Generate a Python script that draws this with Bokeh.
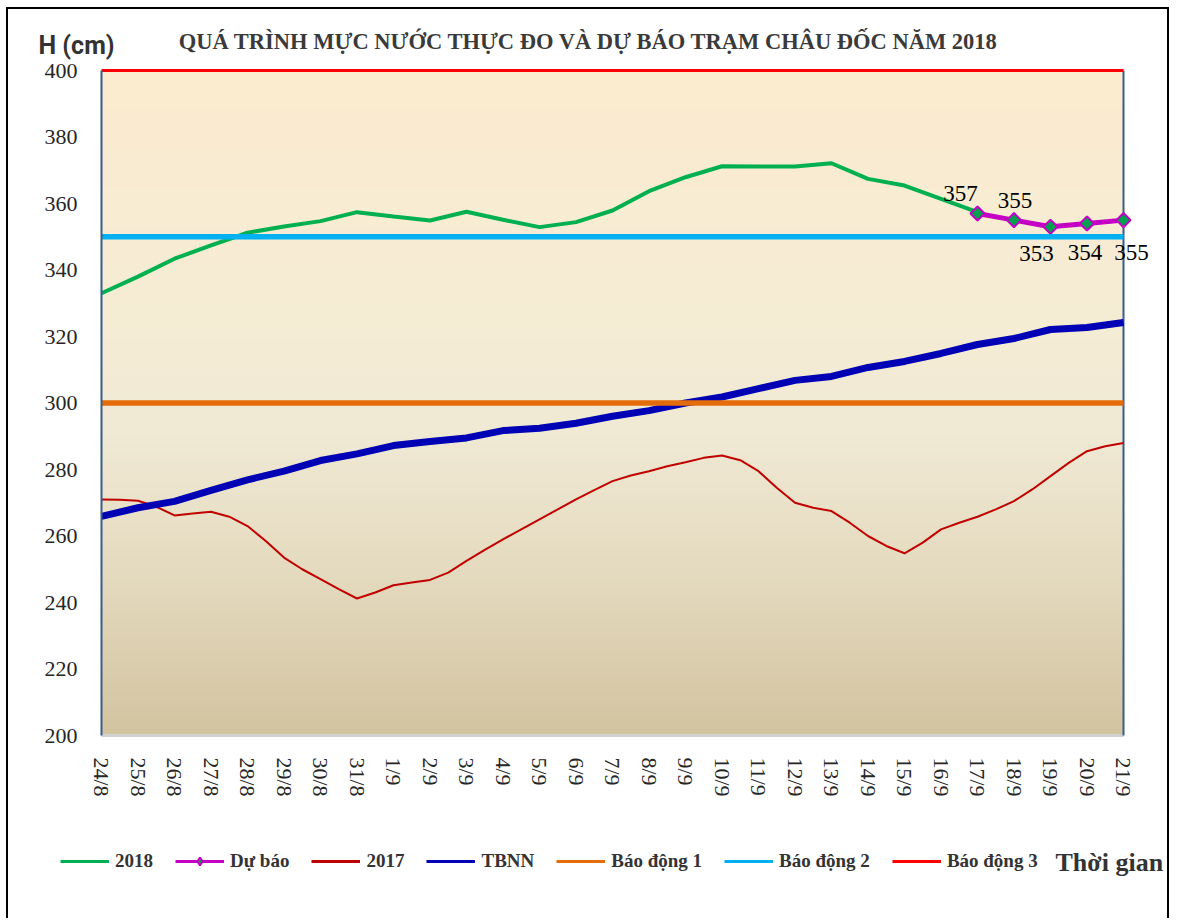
import numpy as np
from bokeh.plotting import figure
from bokeh.models import (FixedTicker, Label, LabelSet, Legend, LegendItem,
                          ColumnDataSource, Range1d, LinearAxis)
from bokeh.embed import file_html
from bokeh.resources import INLINE

# ---------------- data ----------------
dates = ["24/8", "25/8", "26/8", "27/8", "28/8", "29/8", "30/8", "31/8",
         "1/9", "2/9", "3/9", "4/9", "5/9", "6/9", "7/9", "8/9", "9/9",
         "10/9", "11/9", "12/9", "13/9", "14/9", "15/9", "16/9", "17/9",
         "18/9", "19/9", "20/9", "21/9"]

# 2018 observed (24/8 .. 17/9)
h2018 = [333.0, 338.0, 343.4, 347.4, 351.2, 353.1, 354.7, 357.4, 356.1,
         354.9, 357.5, 355.1, 352.9, 354.4, 357.9, 363.7, 367.9, 371.2,
         371.1, 371.1, 372.1, 367.4, 365.4, 361.4, 357.4]

# forecast
forecast_dates = ["17/9", "18/9", "19/9", "20/9", "21/9"]
forecast = [357, 355, 353, 354, 355]

# 2017, read every half day (24/8 .. 21/9)
h2017 = [271.0, 270.9, 270.6, 268.8, 266.2, 266.8, 267.3, 265.8, 263.0,
         258.5, 253.5, 250.0, 247.0, 244.0, 241.2, 243.0, 245.2, 246.0,
         246.8, 249.0, 252.5, 255.8, 259.0, 262.0, 265.0, 268.0, 271.0,
         273.8, 276.5, 278.2, 279.5, 281.0, 282.2, 283.5, 284.2, 282.8,
         279.5, 274.5, 270.0, 268.5, 267.5, 264.0, 260.0, 257.0, 254.8,
         258.0, 262.0, 264.0, 265.8, 268.0, 270.5, 274.0, 278.0, 282.0,
         285.5, 287.0, 288.0]

# multi-year average (TBNN)
tbnn = [265.9, 268.5, 270.4, 273.7, 276.9, 279.5, 282.7, 284.7, 287.2,
        288.4, 289.5, 291.7, 292.4, 293.9, 296.0, 297.7, 300.0, 301.8,
        304.3, 306.8, 308.0, 310.7, 312.5, 314.9, 317.6, 319.4, 322.1,
        322.7, 324.2]

alarm_names = ["Báo động 1", "Báo động 2", "Báo động 3"]
alarm_values = [300, 350, 400]

y_ticks = [200, 220, 240, 260, 280, 300, 320, 340, 360, 380, 400]

title_text = "QUÁ TRÌNH MỰC NƯỚC THỰC ĐO VÀ DỰ BÁO TRẠM CHÂU ĐỐC NĂM 2018"
y_unit_text = "H (cm)"
x_name_text = "Thời gian"

# ---------------- positions ----------------
x_all = list(range(len(dates)))
x2018 = x_all[:len(h2018)]
x_fc = [dates.index(d) for d in forecast_dates]
t2017 = list(np.arange(len(h2017)) * 0.5)
x0, x1 = 0, len(dates) - 1
y0, y1 = y_ticks[0], y_ticks[-1]

# ---------------- layout (page pixels) ----------------
W, H = 1163, 911            # canvas: page x 8..1171, y 9..920
CAN_L, CAN_T = 8, 9
PA_L, PA_R, PA_T, PA_B = 101, 1123, 70, 735   # plot area on the page
sx = (PA_R - PA_L) / (x1 - x0)
sy = (PA_B - PA_T) / (y1 - y0)


def dx(px):
    return x0 + (px - PA_L) / sx


def dy(py):
    return y1 - (py - PA_T) / sy


# ---------------- styles ----------------
C2018 = "#00B050"
CFC = "#C400C4"
CFC_FILL = "#00A04E"
C2017 = "#C00000"
CTB = "#0000B4"
CA = ["#E46C0A", "#00B0F0", "#FF0000"]
AXIS = "#385D8A"

p = figure(width=W, height=H,
           x_range=Range1d(dx(CAN_L), dx(CAN_L + W)),
           y_range=Range1d(dy(CAN_T + H), dy(CAN_T)),
           output_backend="svg", toolbar_location=None,
           x_axis_type=None, y_axis_type=None, min_border=0,
           margin=(7, 0, 0, 6),
           styles={"border-top": "2px solid #000",
                   "border-left": "2px solid #000",
                   "border-right": "2px solid #000"})
p.outline_line_color = None
p.grid.visible = False
p.background_fill_color = "white"

# gradient plot-area background
n = 256
yy = np.linspace(y0, y1, n)
stops_y = [y0, y0 + 50, y0 + 90, y0 + 130, y1]
stops_r = [211, 229, 240, 246, 252]
stops_g = [196, 219, 233, 237, 235]
stops_b = [160, 192, 212, 213, 207]
img = np.empty((n, 1), dtype=np.uint32)
view = img.view(dtype=np.uint8).reshape((n, 1, 4))
view[:, 0, 0] = np.interp(yy, stops_y, stops_r).astype(np.uint8)
view[:, 0, 1] = np.interp(yy, stops_y, stops_g).astype(np.uint8)
view[:, 0, 2] = np.interp(yy, stops_y, stops_b).astype(np.uint8)
view[:, 0, 3] = 255
p.image_rgba(image=[img], x=x0, y=y0, dw=x1 - x0, dh=y1 - y0)

# bottom shadow and right border of plot area
p.line([x0, x1], [y0, y0], line_color="#D0D0D0", line_width=3)
p.line([x1, x1], [y0, y1], line_color=AXIS, line_width=2)

# series
p.line(x2018, h2018, line_color=C2018, line_width=4)
p.line(x_fc, forecast, line_color=CFC, line_width=5)
p.scatter(x_fc, forecast, marker="square", angle=np.pi / 4, size=10,
          fill_color=CFC_FILL, line_color=CFC, line_width=2)
p.line(t2017, h2017, line_color=C2017, line_width=2)
p.line(x_all, tbnn, line_color=CTB, line_width=7)
for v, c in zip(alarm_values, CA):
    p.line([x0, x1], [v, v], line_color=c, line_width=5.5 if v < y1 else 3)

# forecast value labels
lab_src = ColumnDataSource(dict(x=x_fc, y=forecast, text=[str(v) for v in forecast],
                                dx=[-17, 1, -14, -2, 8], dy=[20, 20, -27, -29, -32]))
p.add_layout(LabelSet(x="x", y="y", text="text", x_offset="dx", y_offset="dy",
                      source=lab_src, text_align="center", text_baseline="middle",
                      text_font="Liberation Sans", text_font_size="23px",
                      text_color="black"))

# axes placed at the plot-area edges
yaxis = LinearAxis(fixed_location=x0, bounds=(y0, y1), ticker=FixedTicker(ticks=y_ticks),
                   axis_line_color=AXIS, axis_line_width=2,
                   major_tick_line_color=None, minor_tick_line_color=None,
                   major_tick_out=0, major_tick_in=0, major_label_standoff=24,
                   major_label_text_font="Liberation Serif",
                   major_label_text_font_size="22px",
                   major_label_text_color="#262626")
p.add_layout(yaxis, "left")

xaxis = LinearAxis(fixed_location=y0, bounds=(x0, x1), ticker=FixedTicker(ticks=x_all),
                   major_label_overrides={i: d for i, d in enumerate(dates)},
                   major_label_orientation="vertical",
                   axis_line_color=None, major_tick_line_color=None,
                   minor_tick_line_color=None, major_tick_out=0, major_tick_in=0,
                   major_label_standoff=22,
                   major_label_text_font="Liberation Serif",
                   major_label_text_font_size="22px",
                   major_label_text_color="#262626")
p.add_layout(xaxis, "below")

# titles
p.add_layout(Label(x=dx(588), y=dy(41), text=title_text, text_align="center",
                   text_baseline="middle", text_font="Liberation Serif",
                   text_font_style="bold", text_font_size="22.5px",
                   text_color="#3A3A3A"))
p.add_layout(Label(x=dx(38), y=dy(45), text=y_unit_text, text_align="left",
                   text_baseline="middle", text_font="Roboto",
                   text_font_style="bold", text_font_size="25px",
                   text_color="#333333"))
p.add_layout(Label(x=dx(1055), y=dy(862), text=x_name_text, text_align="left",
                   text_baseline="middle", text_font="Liberation Serif",
                   text_font_style="bold", text_font_size="26px",
                   text_color="#333333"))

# legend (proxy renderers with thin lines, no visible data)
nan = [float("nan")]
lg2018 = p.line(x=nan, y=nan, line_color=C2018, line_width=3)
lgfc = p.line(x=nan, y=nan, line_color=CFC, line_width=3)
lgfcm = p.scatter(x=nan, y=nan, marker="diamond", size=15,
                  fill_color=CFC_FILL, line_color=CFC, line_width=2)
lg2017 = p.line(x=nan, y=nan, line_color=C2017, line_width=3)
lgtb = p.line(x=nan, y=nan, line_color=CTB, line_width=3)
lga = [p.line(x=nan, y=nan, line_color=c, line_width=3) for c in CA]

items = [LegendItem(label="2018", renderers=[lg2018]),
         LegendItem(label="Dự báo", renderers=[lgfc, lgfcm]),
         LegendItem(label="2017", renderers=[lg2017]),
         LegendItem(label="TBNN", renderers=[lgtb])]
items += [LegendItem(label=nm, renderers=[r]) for nm, r in zip(alarm_names, lga)]

legend = Legend(items=items, orientation="horizontal",
                location=(60 - CAN_L, CAN_T + H - 872),
                spacing=22, glyph_width=49, glyph_height=20, label_standoff=6,
                label_height=20, padding=0, margin=0, border_line_color=None,
                background_fill_alpha=0, label_text_font="Liberation Serif",
                label_text_font_style="bold", label_text_font_size="19px",
                label_text_color="#333333")
p.add_layout(legend)

open("out.html", "w").write(file_html(p, INLINE))
